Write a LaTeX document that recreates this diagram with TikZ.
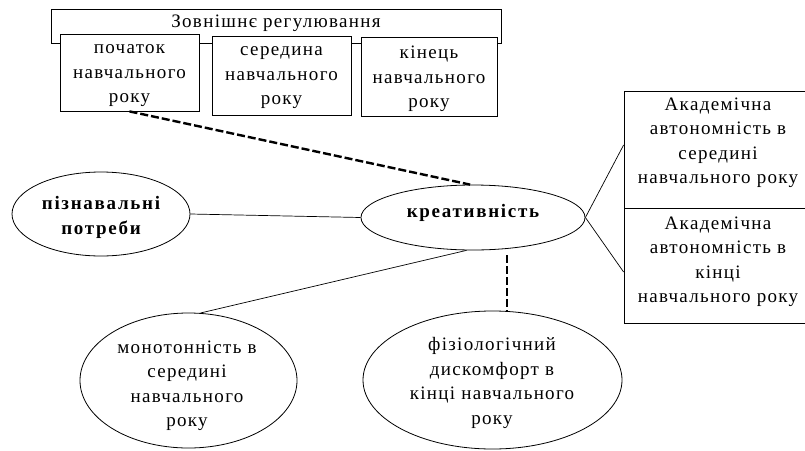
\documentclass[tikz,border=0pt]{standalone}
\usepackage{fontspec}
\setmainfont{Liberation Serif}[LetterSpace=7]
\usetikzlibrary{shapes.geometric}
\begin{document}
\begin{tikzpicture}[x=1pt,y=-1pt,
  every node/.style={font=\fontsize{19}{24.5}\selectfont, align=center, inner sep=0pt},
  box/.style={draw, fill=white, line width=0.8pt},
  ell/.style={draw, ellipse, fill=white, line width=0.8pt},
  bld/.style={font=\fontsize{19}{25}\selectfont\bfseries\addfontfeature{LetterSpace=9}},
  thinline/.style={line width=0.7pt},
  dsh/.style={line width=2.4pt, dash pattern=on 8pt off 3pt},
]
\useasboundingbox (0,0) rectangle (805,450);
\fill[white] (0,0) rectangle (805,450);

% external regulation
\node[box, minimum width=450pt, minimum height=34pt] (reg) at (276,26) {};
\node (regt) at (276,23) {Зовнішнє регулювання};
\node[box, minimum width=139pt, minimum height=77pt] (b1) at (129.5,72.5) {};
\node (b1t) at (129.5,76) {початок\\навчального\\року};
\node[box, minimum width=139pt, minimum height=79pt] (b2) at (281.5,75.5) {};
\node (b2t) at (281.5,78) {середина\\навчального\\року};
\node[box, minimum width=136pt, minimum height=79pt] (b3) at (429,76.5) {};
\node (b3t) at (429,79) {кінець\\навчального\\року};

% right boxes
\node[box, minimum width=186pt, minimum height=117pt] (r1) at (717,149.5) {};
\node (r1t) at (718,143) {Академічна\\автономність в\\середині\\навчального року};
\node[box, minimum width=186pt, minimum height=115pt] (r2) at (717,265.5) {};
\node (r2t) at (718,262) {Академічна\\автономність в\\кінці\\навчального року};

% ellipses
\node[ell, minimum width=178pt, minimum height=84pt] (pz) at (101,214) {};
\node[bld] (pzt) at (101,217) {пізнавальні\\потреби};
\node[ell, minimum width=224pt, minimum height=65pt] (kr) at (473,217.5) {};
\node[bld] (krt) at (473,213) {креативність};
\node[ell, minimum width=217pt, minimum height=135pt] (mono) at (188.5,380.5) {};
\node (monot) at (187,386) {монотонність в\\середині\\навчального\\року};
\node[ell, minimum width=259pt, minimum height=138pt] (fiz) at (492.5,380) {};
\node (fizt) at (492,383) {фізіологічний\\дискомфорт в\\кінці навчального\\року};

\coordinate (vx) at (507,0);

% connectors
\draw[dsh] (b1.south) -- (kr.95);
\draw[thinline] (pz.east) -- (kr.west);
\draw[thinline] (kr.259) -- (mono.80);
\draw[dsh] ([yshift=-5pt]kr.south -| vx) -- (fiz.north -| vx);
\draw[thinline] (kr.east) -- ([yshift=4.5pt]r1.west);
\draw[thinline] (kr.east) -- ([yshift=-6.5pt]r2.west);
\end{tikzpicture}
\end{document}
